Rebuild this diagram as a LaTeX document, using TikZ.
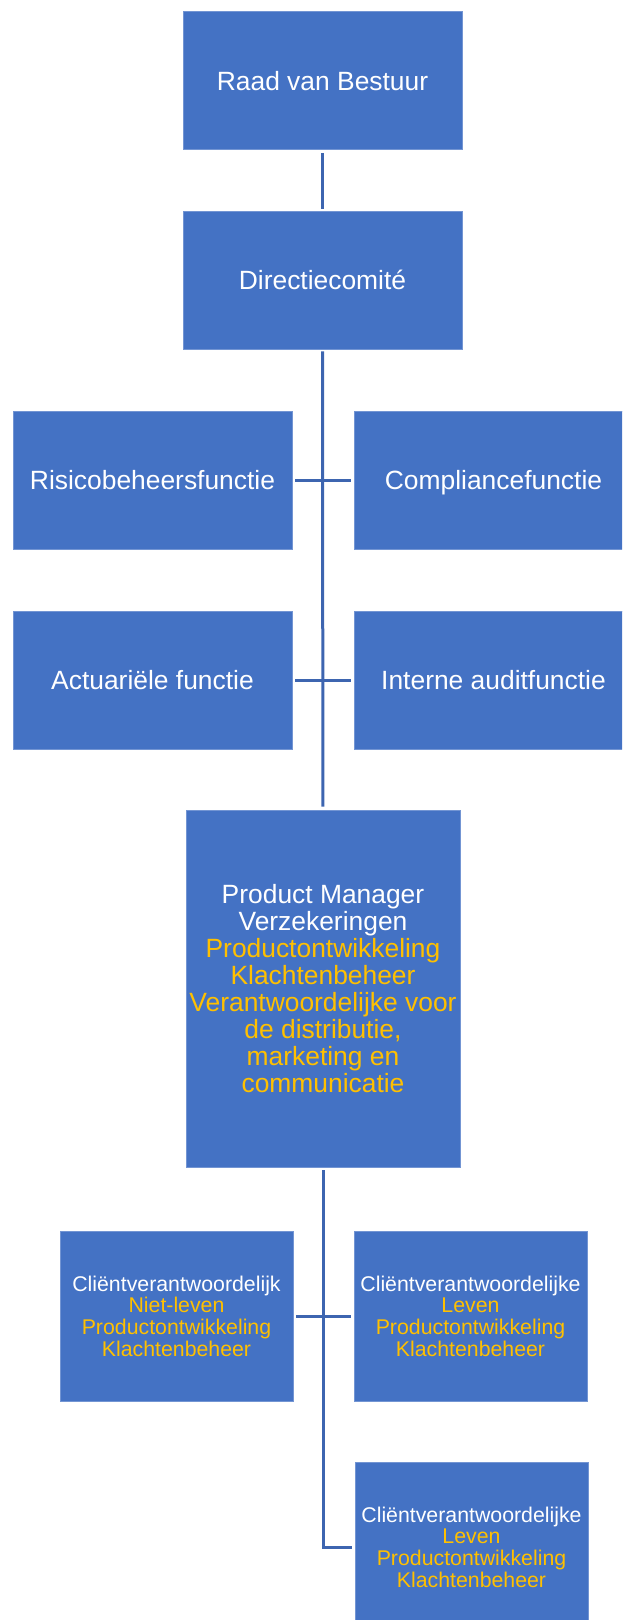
\documentclass[tikz,border=0pt]{standalone}
\usepackage{fontspec}
\setmainfont{Liberation Sans}
\usepackage{xcolor}
\definecolor{boxblue}{HTML}{4472C4}
\definecolor{boxgold}{HTML}{FFC000}
\definecolor{linkblue}{HTML}{3D65B0}
\newcommand{\gold}[1]{\textcolor{boxgold}{#1}}

\begin{document}
\begin{tikzpicture}[x=1pt,y=-1pt,
  unit/.style={rectangle,fill=boxblue,draw=boxblue!75!white,line width=0.6pt,text=white,
    align=center,inner sep=0pt,text depth=0pt,minimum width=279pt,minimum height=138pt,
    font=\fontsize{26.4}{27}\selectfont},
  clientunit/.style={unit,minimum width=233pt,minimum height=170pt,
    font=\fontsize{21.3}{21.7}\selectfont},
  link/.style={draw=linkblue,line width=3pt,line join=miter}]
  \useasboundingbox (0,0) rectangle (622,1620);
  \clip (0,0) rectangle (622,1620);
  % board and management
  \node[unit] (raad) at (322.5,80.5) {Raad van Bestuur};
  \node[unit] (directie) at (322.5,280) {Directiecomité};
  % key functions
  \node[unit] (risico) at (152.5,480) {Risicobeheersfunctie};
  \node[unit] (compliance) at (493.5,480) {Compliancefunctie};
  \node[unit] (actuarieel) at (152.5,680) {Actuariële functie};
  \node[unit] (audit) at (493.5,680) {Interne auditfunctie};
  % product manager
  \node[unit,minimum width=274pt,minimum height=357pt] (pm) at (323,988.5)
    {Product Manager\\Verzekeringen\\\gold{Productontwikkeling}\\\gold{Klachtenbeheer}\\
     \gold{Verantwoordelijke voor}\\\gold{de distributie,}\\\gold{marketing en}\\\gold{communicatie}};
  % client managers
  \node[clientunit] (nietleven) at (176.5,1316)
    {Cliëntverantwoordelijk\\\gold{Niet-leven}\\\gold{Productontwikkeling}\\\gold{Klachtenbeheer}};
  \node[clientunit] (leven) at (470.5,1316)
    {Cliëntverantwoordelijke\\\gold{Leven}\\\gold{Productontwikkeling}\\\gold{Klachtenbeheer}};
  \node[clientunit] (leventwee) at (471.5,1547)
    {Cliëntverantwoordelijke\\\gold{Leven}\\\gold{Productontwikkeling}\\\gold{Klachtenbeheer}};
  % connectors
  \draw[link,shorten <=3pt,shorten >=2pt] (raad) -- (directie);
  \draw[link,shorten <=2pt,shorten >=3pt] (directie) -- (pm);
  \draw[link,shorten <=3pt,shorten >=3pt] (risico) -- (compliance);
  \draw[link,shorten <=3pt,shorten >=3pt] (actuarieel) -- (audit);
  \draw[link,shorten <=3pt,shorten >=3pt] (nietleven) -- (leven);
  \coordinate (bocht) at (pm.south |- leventwee.west);
  \draw[link] ([yshift=-3pt]pm.south) -- (bocht) -- ([xshift=-3pt]leventwee.west);
\end{tikzpicture}
\end{document}
